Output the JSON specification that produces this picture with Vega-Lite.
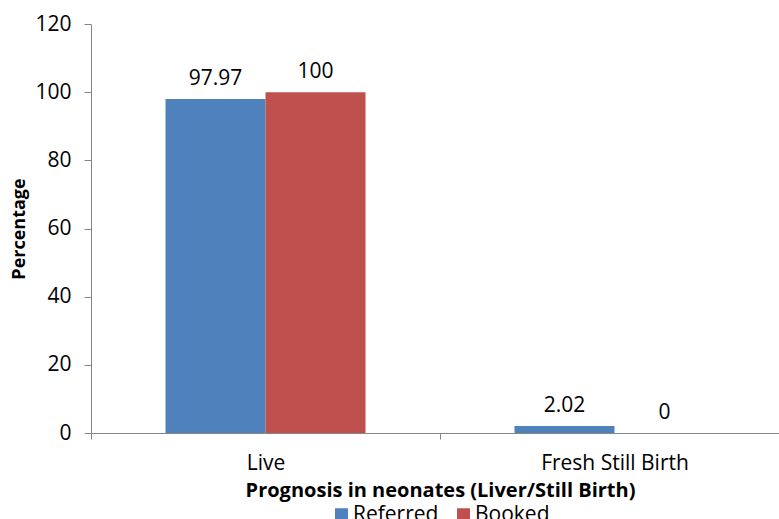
{
  "$schema": "https://vega.github.io/schema/vega-lite/v6.json",
  "autosize": {"type": "none"},
  "width": 688,
  "height": 409,
  "padding": {"left": 91, "top": 24, "right": 0, "bottom": 86},
  "background": "white",
  "config": {
    "font": "Open Sans",
    "view": {"stroke": null},
    "axis": {"grid": false, "domainColor": "#868686", "tickColor": "#868686", "labelColor": "#000000", "titleColor": "#000000"}
  },
  "data": {
    "values": [
      {"category": "Live", "group": "Referred", "value": 97.97, "label": "97.97"},
      {"category": "Live", "group": "Booked", "value": 100, "label": "100"},
      {"category": "Fresh Still Birth", "group": "Referred", "value": 2.02, "label": "2.02"},
      {"category": "Fresh Still Birth", "group": "Booked", "value": 0, "label": "0"}
    ]
  },
  "encoding": {
    "x": {
      "field": "category", "type": "nominal", "sort": ["Live", "Fresh Still Birth"],
      "scale": {"paddingInner": 0, "paddingOuter": 0, "range": [0, 698]},
      "axis": {"title": "Prognosis in neonates (Liver/Still Birth)", "labelAngle": 0, "labelFontSize": 21, "labelPadding": 13, "tickBand": "extent", "tickSize": 6, "titleFontSize": 20, "titleFontWeight": "bold", "titlePadding": 7}
    },
    "xOffset": {"field": "group", "type": "nominal", "sort": ["Referred", "Booked"], "scale": {"paddingInner": 0, "paddingOuter": 0.745}},
    "y": {
      "field": "value", "type": "quantitative",
      "scale": {"domain": [0, 120]},
      "axis": {"title": "Percentage", "values": [0, 20, 40, 60, 80, 100, 120], "labelFontSize": 21, "labelPadding": 13, "tickSize": 7, "titleFontSize": 18, "titleFontWeight": "bold", "titlePadding": 6}
    }
  },
  "layer": [
    {
      "mark": {"type": "bar"},
      "encoding": {
        "color": {
          "field": "group", "type": "nominal", "sort": ["Referred", "Booked"],
          "scale": {"domain": ["Referred", "Booked"], "range": ["#4F81BD", "#C0504D"]},
          "legend": {"title": null, "orient": "none", "legendX": 240, "legendY": 480, "direction": "horizontal", "symbolType": "square", "symbolSize": 169, "labelFontSize": 21, "labelColor": "#000000", "columnPadding": 14, "labelOffset": 1, "symbolOffset": 0}
        }
      }
    },
    {
      "mark": {"type": "text", "baseline": "alphabetic", "dy": -14, "fontSize": 21, "color": "#000000"},
      "encoding": {"text": {"field": "label"}}
    }
  ]
}
